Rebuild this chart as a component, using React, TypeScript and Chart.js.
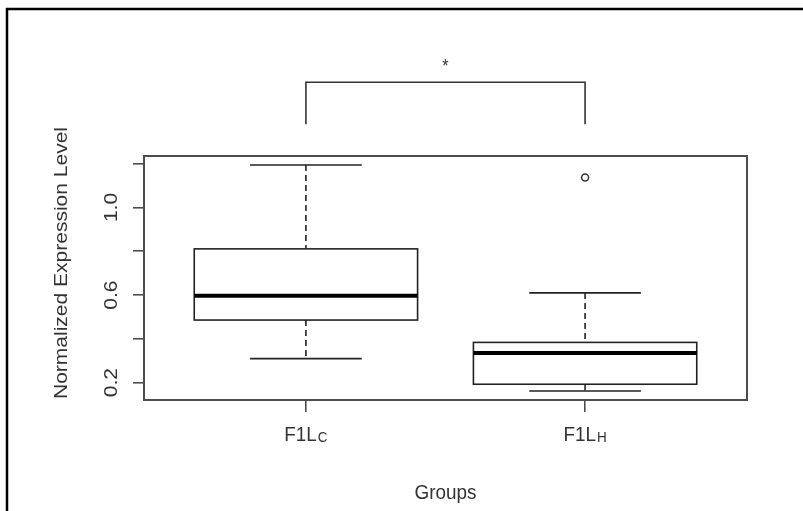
import React, { useEffect, useRef } from 'react';
import { Chart, registerables } from 'chart.js';

Chart.register(...registerables);

// ---- data ----
const groupNames = ['F1L', 'F1L'];
const groupSubscripts = ['C', 'H'];
const groupPositions = [1, 2];
const whiskerLow = [0.31, 0.162];
const q1 = [0.486, 0.193];
const median = [0.597, 0.336];
const q3 = [0.811, 0.384];
const whiskerHigh = [1.194, 0.61];
const outliers: number[][] = [[], [1.137]];
const yTicks = [0.2, 0.4, 0.6, 0.8, 1.0, 1.2];
const yTickLabels = ['0.2', '', '0.6', '', '1.0', ''];
const xTitle = 'Groups';
const yTitle = 'Normalized Expression Level';
const significance = '*';
const bracketGroups = [1, 2];
const bracketTop = 1.572;
const bracketLegBottom = 1.38;
const significanceY = 1.66;

const FONT = '"Liberation Sans", Arial, sans-serif';
const TEXT = '#333333';
const SQUEEZE = 0.9;

function drawText(ctx: any, text: string, px: number, py: number, size: number, rotate = false, align = 'center', baseline = 'middle') {
  ctx.save();
  ctx.translate(px, py);
  ctx.scale(SQUEEZE, 1);
  if (rotate) ctx.rotate(-Math.PI / 2);
  ctx.font = `${size}px ${FONT}`;
  ctx.textAlign = align;
  ctx.textBaseline = baseline;
  ctx.fillText(text, 0, 0);
  ctx.restore();
}

const boxPlugin = {
  id: 'rbox',
  beforeDatasetsDraw(chart: any) {
    const { ctx, chartArea: a, scales } = chart;
    const x = scales.x;
    const y = scales.y;
    ctx.save();
    // plot frame
    ctx.strokeStyle = '#4d4d4d';
    ctx.lineWidth = 2;
    ctx.strokeRect(a.left, a.top, a.right - a.left, a.bottom - a.top);

    const line = (x1: number, y1: number, x2: number, y2: number) => {
      ctx.beginPath();
      ctx.moveTo(x1, y1);
      ctx.lineTo(x2, y2);
      ctx.stroke();
    };

    groupPositions.forEach((g, i) => {
      const xc = x.getPixelForValue(g);
      const xl = x.getPixelForValue(g - 0.4);
      const xr = x.getPixelForValue(g + 0.4);
      const cl = x.getPixelForValue(g - 0.2);
      const cr = x.getPixelForValue(g + 0.2);
      const pLo = y.getPixelForValue(whiskerLow[i]);
      const pQ1 = y.getPixelForValue(q1[i]);
      const pMed = y.getPixelForValue(median[i]);
      const pQ3 = y.getPixelForValue(q3[i]);
      const pHi = y.getPixelForValue(whiskerHigh[i]);

      ctx.strokeStyle = '#222222';
      ctx.lineWidth = 1.6;
      ctx.setLineDash([6, 4]);
      line(xc, pHi, xc, pQ3);
      line(xc, pQ1, xc, pLo);
      ctx.setLineDash([]);
      line(cl, pHi, cr, pHi);
      line(cl, pLo, cr, pLo);
      ctx.strokeRect(xl, pQ3, xr - xl, pQ1 - pQ3);
      ctx.strokeStyle = '#000000';
      ctx.lineWidth = 4;
      line(xl, pMed, xr, pMed);
    });
    ctx.restore();
  },
  afterDraw(chart: any) {
    const { ctx, chartArea: a, scales } = chart;
    const x = scales.x;
    const y = scales.y;
    ctx.save();
    ctx.fillStyle = TEXT;

    // y tick labels (rotated, as in R)
    yTicks.forEach((v, i) => {
      if (!yTickLabels[i]) return;
      drawText(ctx, yTickLabels[i], 112, y.getPixelForValue(v), 21, true);
    });

    // x tick labels with subscripts
    groupPositions.forEach((g, i) => {
      const xc = x.getPixelForValue(g);
      ctx.font = `21px ${FONT}`;
      const w1 = ctx.measureText(groupNames[i]).width * SQUEEZE;
      ctx.font = `15px ${FONT}`;
      const w2 = ctx.measureText(groupSubscripts[i]).width * SQUEEZE;
      const start = xc - (w1 + w2 + 1) / 2;
      drawText(ctx, groupNames[i], start, 441, 21, false, 'left', 'alphabetic');
      drawText(ctx, groupSubscripts[i], start + w1 + 1, 442, 15, false, 'left', 'alphabetic');
    });

    // axis titles
    drawText(ctx, xTitle, (a.left + a.right) / 2, 493, 21);
    drawText(ctx, yTitle, 62, 263, 21, true);

    // significance bracket
    const bx1 = x.getPixelForValue(bracketGroups[0]);
    const bx2 = x.getPixelForValue(bracketGroups[1]);
    const byTop = y.getPixelForValue(bracketTop);
    const byLeg = y.getPixelForValue(bracketLegBottom);
    ctx.strokeStyle = '#333333';
    ctx.lineWidth = 1.6;
    ctx.beginPath();
    ctx.moveTo(bx1, byLeg);
    ctx.lineTo(bx1, byTop);
    ctx.lineTo(bx2, byTop);
    ctx.lineTo(bx2, byLeg);
    ctx.stroke();
    drawText(ctx, significance, (bx1 + bx2) / 2, y.getPixelForValue(significanceY) + 4, 18);

    // image frame
    ctx.strokeStyle = '#000000';
    ctx.lineWidth = 2.5;
    ctx.beginPath();
    ctx.moveTo(7, 511);
    ctx.lineTo(7, 9);
    ctx.lineTo(803, 9);
    ctx.stroke();
    ctx.restore();
  },
};

export default function App() {
  const ref = useRef<HTMLCanvasElement | null>(null);

  useEffect(() => {
    document.body.style.margin = '0';
    if (!ref.current) return;
    const outlierPoints = outliers.flatMap((vals, i) =>
      vals.map((v) => ({ x: groupPositions[i], y: v }))
    );
    const chart = new Chart(ref.current, {
      type: 'scatter',
      data: {
        datasets: [
          {
            data: outlierPoints,
            pointRadius: 3.5,
            pointBackgroundColor: '#ffffff',
            pointBorderColor: '#333333',
            pointBorderWidth: 1.5,
          },
        ],
      },
      options: {
        responsive: false,
        animation: false,
        devicePixelRatio: 1,
        layout: { padding: { top: 156, right: 56, left: 0, bottom: 0 } },
        plugins: { legend: { display: false }, tooltip: { enabled: false } },
        scales: {
          x: {
            type: 'linear',
            position: 'bottom',
            min: 0.42,
            max: 2.58,
            afterBuildTicks: (s: any) => {
              s.ticks = groupPositions.map((v) => ({ value: v }));
            },
            afterFit: (s: any) => {
              s.height = 111;
            },
            ticks: { display: false },
            grid: {
              drawOnChartArea: false,
              drawTicks: true,
              tickLength: 12,
              color: '#4d4d4d',
              lineWidth: 1.6,
            },
            border: { display: false },
          },
          y: {
            type: 'linear',
            position: 'left',
            min: 0.121,
            max: 1.235,
            afterBuildTicks: (s: any) => {
              s.ticks = yTicks.map((v) => ({ value: v }));
            },
            afterFit: (s: any) => {
              s.width = 144;
            },
            ticks: { display: false },
            grid: {
              drawOnChartArea: false,
              drawTicks: true,
              tickLength: 11,
              color: '#4d4d4d',
              lineWidth: 1.6,
            },
            border: { display: false },
          },
        },
      },
      plugins: [boxPlugin],
    });
    return () => chart.destroy();
  }, []);

  return (
    <div style={{ width: 803, height: 511 }}>
      <canvas ref={ref} width={803} height={511} />
    </div>
  );
}
